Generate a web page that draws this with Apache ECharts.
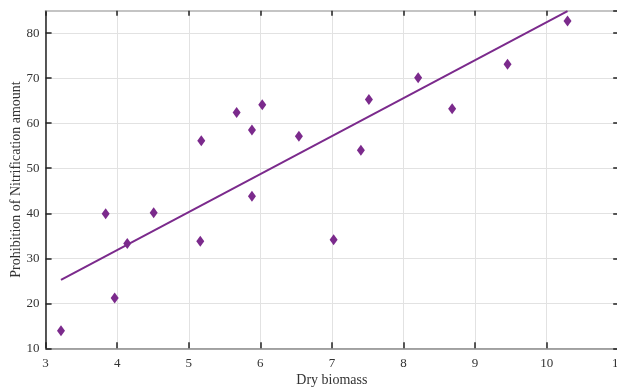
<!DOCTYPE html>
<html><head><meta charset="utf-8">
<script src="https://cdn.jsdelivr.net/npm/echarts@6/dist/echarts.min.js"></script>
<style>html,body{margin:0;padding:0;background:#fff}#c{width:617px;height:387px}</style>
</head><body><div id="c"></div>
<script>
const dryBiomass = [3.215,3.839,3.965,4.141,4.510,5.161,5.175,5.669,5.883,5.883,6.027,6.539,7.024,7.405,7.517,8.205,8.680,9.454,10.292];
const prohibition = [13.9,39.9,21.2,33.3,40.1,33.8,56.1,62.4,58.5,43.8,64.1,57.1,34.1,54.0,65.3,70.1,63.2,73.1,82.7];
const fitX = [3.215, 10.292];
const fitY = [25.2, 84.9];

const purple = '#7b2a8c';
const font = 'Liberation Serif';
const chart = echarts.init(document.getElementById('c'));
const pts = dryBiomass.map((x,i)=>[x, prohibition[i]]);
const fit = fitX.map((x,i)=>[x, fitY[i]]);
chart.setOption({
  animation:false,
  grid:{left:45.6, right:-1.2, top:10.7, bottom:38.7, containLabel:false, outerBoundsMode:'none'},
  xAxis:[{
    type:'value', min:3, max:11, interval:1, position:'bottom',
    name:'Dry biomass', nameLocation:'middle', nameGap:25, nameMoveOverlap:false,
    nameTextStyle:{fontFamily:font, fontSize:14, color:'#333'},
    axisLine:{lineStyle:{color:'#8a8a8a', width:1.5}},
    axisTick:{inside:true, length:6, lineStyle:{color:'#222', width:1.5}},
    axisLabel:{fontFamily:font, fontSize:13, color:'#333', margin:9},
    splitLine:{show:true, lineStyle:{color:'#e2e2e2', width:1}}
  },{
    type:'value', min:3, max:11, interval:1, position:'top',
    axisLine:{lineStyle:{color:'#c4c4c4', width:2}},
    axisTick:{inside:true, length:5, lineStyle:{color:'#222', width:1.5}},
    axisLabel:{show:false}, splitLine:{show:false}
  }],
  yAxis:[{
    type:'value', min:10, max:85, interval:10, position:'left',
    name:'Prohibition of Nitrification amount', nameLocation:'middle', nameGap:22, nameMoveOverlap:false,
    nameTextStyle:{fontFamily:font, fontSize:14, color:'#333'},
    axisLine:{show:true, lineStyle:{color:'#222', width:1.5}},
    axisTick:{show:true, inside:true, length:6, lineStyle:{color:'#222', width:1.5}},
    axisLabel:{fontFamily:font, fontSize:13, color:'#333', margin:6, showMaxLabel:false},
    splitLine:{show:true, lineStyle:{color:'#e2e2e2', width:1}}
  },{
    type:'value', min:10, max:85, interval:10, position:'right',
    axisLine:{show:true, lineStyle:{color:'#c4c4c4', width:2}},
    axisTick:{show:true, inside:true, length:5, lineStyle:{color:'#222', width:1.5}},
    axisLabel:{show:false}, splitLine:{show:false}
  }],
  series:[{
    type:'line', data:fit, showSymbol:false, symbol:'none',
    lineStyle:{color:purple, width:2}, z:2
  },{
    type:'scatter', data:pts, symbol:'diamond', symbolSize:[8,11],
    itemStyle:{color:purple, opacity:1}, z:3
  }]
});
</script></body></html>
